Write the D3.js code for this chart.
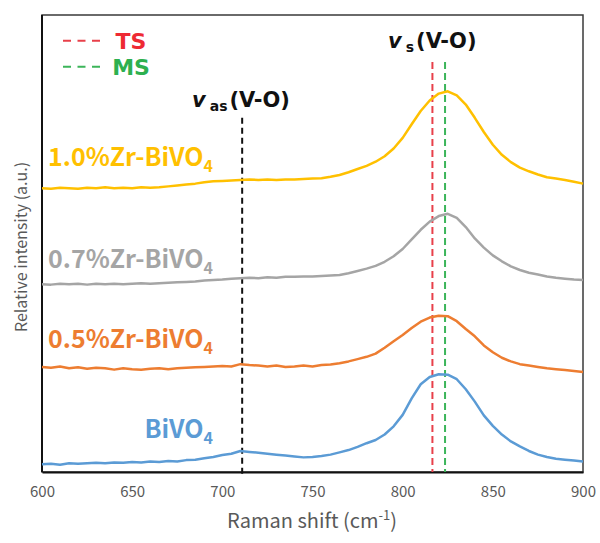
<!DOCTYPE html>
<html>
<head>
<meta charset="utf-8">
<script src="https://cdn.jsdelivr.net/npm/d3@7"></script>
<style>
  body { margin: 0; background: #fff; }
  svg { display: block; }
</style>
</head>
<body>
<div id="chart"></div>
<script>
// Raman shift sample grid (cm-1)
const shifts = [600,605,610,615,620,625,630,635,640,645,650,655,660,665,670,675,680,685,690,695,
  700,705,710,715,720,725,730,735,740,745,750,755,760,765,770,775,780,785,790,795,
  800,805,810,815,820,825,830,835,840,845,850,855,860,865,870,875,880,885,890,895,900];

// relative intensity (offset stacked)
const zr10 = [62.1,62.0,62.2,62.1,62.0,62.2,62.1,62.3,62.1,62.2,62.1,62.3,62.2,62.3,62.5,62.7,62.9,63.1,63.4,63.6,
  63.7,63.8,63.9,64.0,63.9,64.0,63.9,64.0,64.0,64.1,64.2,64.3,64.6,65.0,65.6,66.3,67.0,67.9,69.1,70.8,
  73.1,76.1,79.0,81.3,82.8,83.3,82.4,80.4,77.5,74.4,71.6,69.4,67.8,66.6,65.8,65.1,64.5,64.2,63.9,63.5,63.1];
const zr07 = [41.1,41.0,41.2,41.1,41.2,41.0,41.2,41.1,41.2,41.1,41.2,41.3,41.2,41.3,41.4,41.5,41.6,41.7,41.9,42.0,
  42.1,42.3,42.4,42.5,42.4,42.6,42.5,42.7,42.7,42.8,42.8,42.9,43.0,43.1,43.5,44.0,44.5,45.1,46.0,47.2,
  48.8,50.9,53.0,54.8,56.0,56.5,55.6,53.6,51.1,49.1,47.4,46.1,45.0,44.2,43.6,43.2,42.8,42.5,42.3,42.1,42.0];
const zr05 = [23.0,22.8,23.1,22.7,22.9,22.6,22.8,22.7,22.4,22.7,22.5,22.4,22.6,22.7,22.5,22.7,22.8,22.9,23.0,23.1,
  23.2,23.1,23.6,23.4,23.3,23.1,23.3,23.0,23.1,23.3,23.1,23.4,23.5,23.8,24.2,24.7,25.2,25.9,27.2,28.6,
  30.0,31.5,32.9,33.8,34.2,34.1,33.0,31.3,29.7,27.7,26.2,25.0,24.2,23.6,23.3,23.0,22.7,22.5,22.3,22.1,21.9];
const bivo4 = [1.7,1.8,1.6,1.9,1.8,1.9,2.0,1.9,2.1,2.0,2.2,2.1,2.3,2.2,2.4,2.3,2.6,2.7,3.0,3.3,
  3.7,4.0,4.6,4.4,4.2,4.0,3.8,3.6,3.4,3.2,3.3,3.5,3.8,4.3,4.8,5.5,6.3,7.0,8.2,10.0,
  12.5,16.1,19.2,20.8,21.4,21.3,20.3,18.1,15.4,12.4,10.1,8.2,6.7,5.6,4.6,3.8,3.3,2.9,2.7,2.5,2.3];

const seriesNames = ['1.0%Zr-BiVO', '0.7%Zr-BiVO', '0.5%Zr-BiVO', 'BiVO'];
const seriesColors = ['#FFC000', '#A5A5A5', '#ED7D31', '#5B9BD5'];
const seriesValues = [zr10, zr07, zr05, bivo4];
// baseline of each name label (intensity units)
const labelLevels = [67.0, 44.6, 27.1, 7.4];

const xTicks = [600, 650, 700, 750, 800, 850, 900];
const vasShift = 711;    // v_as(V-O)
const tsShift = 816.5;   // TS
const msShift = 823.5;   // MS

const width = 600, height = 543;
const margin = { top: 15, right: 17, bottom: 71, left: 42 };
const innerW = width - margin.left - margin.right;
const innerH = height - margin.top - margin.bottom;

const svg = d3.select('#chart').append('svg')
  .attr('width', width)
  .attr('height', height);

const g = svg.append('g')
  .attr('transform', `translate(${margin.left},${margin.top})`);

const x = d3.scaleLinear().domain([600, 900]).range([0, innerW]);
const y = d3.scaleLinear().domain([0, 100]).range([innerH, 0]);

const sansJP = '"Noto Sans CJK JP", "Noto Sans", sans-serif';
const wideBold = '"DejaVu Sans", "Liberation Sans", sans-serif';

// frame
g.append('rect')
  .attr('width', innerW)
  .attr('height', innerH)
  .attr('fill', 'none')
  .attr('stroke', '#3a3a3a')
  .attr('stroke-width', 1.5);

// x axis (labels only)
const xAxis = g.append('g')
  .attr('transform', `translate(0,${innerH})`)
  .call(d3.axisBottom(x).tickValues(xTicks).tickSize(0).tickPadding(14));
xAxis.select('.domain').attr('stroke', '#111').attr('stroke-width', 2);
xAxis.selectAll('text')
  .attr('fill', '#595959')
  .style('font-family', sansJP)
  .style('font-size', '15px');

// left axis line
g.append('line')
  .attr('x1', 0).attr('x2', 0)
  .attr('y1', 0).attr('y2', innerH)
  .attr('stroke', '#111')
  .attr('stroke-width', 2);

// reference lines
g.append('line')
  .attr('x1', x(vasShift)).attr('x2', x(vasShift))
  .attr('y1', y(77.5)).attr('y2', innerH + 5)
  .attr('stroke', '#111')
  .attr('stroke-width', 2)
  .attr('stroke-dasharray', '6,4');

g.append('line')
  .attr('x1', x(tsShift)).attr('x2', x(tsShift))
  .attr('y1', y(89.7)).attr('y2', innerH)
  .attr('stroke', '#E8404A')
  .attr('stroke-width', 2)
  .attr('stroke-dasharray', '7,4');

g.append('line')
  .attr('x1', x(msShift)).attr('x2', x(msShift))
  .attr('y1', y(89.7)).attr('y2', innerH)
  .attr('stroke', '#3CB55A')
  .attr('stroke-width', 2)
  .attr('stroke-dasharray', '7,4');

// spectra
const line = d3.line()
  .x((d, i) => x(shifts[i]))
  .y(d => y(d))
  .curve(d3.curveLinear);

seriesValues.forEach((vals, k) => {
  g.append('path')
    .datum(vals)
    .attr('fill', 'none')
    .attr('stroke', seriesColors[k])
    .attr('stroke-width', 2.5)
    .attr('stroke-linejoin', 'round')
    .attr('d', line);

  const t = g.append('text')
    .attr('x', 171)
    .attr('y', y(labelLevels[k]))
    .attr('text-anchor', 'end')
    .attr('fill', seriesColors[k])
    .style('font-family', sansJP)
    .style('font-weight', 'bold')
    .style('font-size', '25px');
  t.append('tspan').text(seriesNames[k]);
  t.append('tspan').attr('dy', 6).style('font-size', '16px').text('4');
});

// legend
const legend = [
  { name: 'TS', color: '#E8404A', text: '#EE2A33' },
  { name: 'MS', color: '#3CB55A', text: '#2DB04F' }
];
legend.forEach((d, i) => {
  const ly = 25.7 + i * 26;
  g.append('line')
    .attr('x1', 21).attr('x2', 58)
    .attr('y1', ly).attr('y2', ly)
    .attr('stroke', d.color)
    .attr('stroke-width', 2)
    .attr('stroke-dasharray', '8,6.5');
  g.append('text')
    .attr('x', 89)
    .attr('y', ly + 8)
    .attr('text-anchor', 'middle')
    .attr('fill', d.text)
    .style('font-family', wideBold)
    .style('font-weight', 'bold')
    .style('font-size', '22px')
    .text(d.name);
});

// band labels
function bandLabel(px, py, sub) {
  const t = g.append('text')
    .attr('x', px)
    .attr('y', py)
    .attr('fill', '#111')
    .style('font-family', wideBold)
    .style('font-weight', 'bold')
    .style('font-size', '21px');
  t.append('tspan').style('font-style', 'italic').text('v');
  t.append('tspan').attr('dx', 4).attr('dy', 4).style('font-size', '14px').text(sub);
  t.append('tspan').attr('dx', 2).attr('dy', -4).text('(V-O)');
}
bandLabel(346, 33, 's');
bandLabel(150, 92, 'as');

// axis titles
svg.append('text')
  .attr('x', 312)
  .attr('y', 528)
  .attr('text-anchor', 'middle')
  .attr('fill', '#595959')
  .style('font-family', sansJP)
  .style('font-size', '20px')
  .call(t => {
    t.append('tspan').text('Raman shift (cm');
    t.append('tspan').attr('dy', -8).style('font-size', '13px').text('-1');
    t.append('tspan').attr('dy', 8).text(')');
  });

svg.append('text')
  .attr('transform', 'translate(27,247) rotate(-90)')
  .attr('text-anchor', 'middle')
  .attr('fill', '#595959')
  .style('font-family', sansJP)
  .style('font-size', '16px')
  .text('Relative intensity (a.u.)');
</script>
</body>
</html>
